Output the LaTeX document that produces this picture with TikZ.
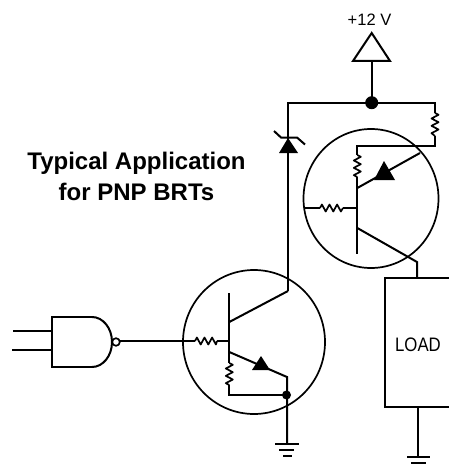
\documentclass[tikz,border=0pt]{standalone}
\usepackage{fontspec}
\setmainfont{Liberation Sans}
\tikzset{
  x=1pt,y=-1pt,
  wire/.style={line width=2pt,line join=miter},
  thin wire/.style={line width=1.7pt},
  tubecircle/.style={line width=1.7pt},
  jdot/.style={circle,fill=black,inner sep=0pt,minimum size=#1},
  lbl/.style={inner sep=0pt,align=center}
}
\newcommand{\vres}[3]{% x, ytop, ybottom
  \draw[thin wire,line join=round] (#1,#2)
   -- ++(3.5,1.83) -- ++(-7,3.67) -- ++(7,3.67) -- ++(-7,3.67) -- ++(7,3.67) -- ++(-7,3.67) -- (#1,#3);}
\newcommand{\hres}[3]{% xleft, xright, y
  \draw[thin wire,line join=round] (#1,#3)
   -- ++(1.9,-3.5) -- ++(3.8,7) -- ++(3.8,-7) -- ++(3.8,7) -- ++(3.8,-7) -- ++(3.8,7) -- (#2,#3);}
\begin{document}
\begin{tikzpicture}[x=1pt,y=-1pt]
\useasboundingbox (0,0) rectangle (449,468);
% labels
\node[lbl,font=\fontsize{16.5}{17}\selectfont] (vcc) at (369.5,19.5) {+12 V};
\node[lbl,font=\fontsize{24}{31}\selectfont\bfseries] (title) at (136.5,176) {Typical Application\\for PNP BRTs};
\node[lbl,font=\fontsize{19.5}{20}\selectfont,xscale=.86] (loadlbl) at (418,345) {LOAD};
% supply
\coordinate (top) at (371.7,102.7);
\coordinate (vb) at (371.7,61);
\draw[wire] (371.7,33) -- (390,61) -- (353,61) -- cycle;
\draw[wire] (vb) -- (top);
\node[jdot=13pt] (jtop) at (top) {};
\draw[wire] (288,291) -- (288,102.7) -- (435,102.7) -- (435,113);
\vres{435}{113}{136}
\draw[wire] (435,136) -- (435,146) -- (357.3,146) -- (357.3,155);
% zener
\fill (288,138) -- (298,153) -- (279,153) -- cycle;
\draw[wire] (274,131) -- (281,137.5) -- (297,137.5) -- (305,144.5);
% upper transistor
\draw[tubecircle] (371,198.5) ellipse (67.5 and 69.5);
\vres{357.3}{155}{177}
\draw[wire] (357.3,177) -- (357.3,254);
\draw[wire] (303.5,208) -- (320,208);
\hres{320}{343}{208}
\draw[wire] (343,208) -- (357.3,208);
\draw[wire] (357.3,188) -- (420,153);
\fill (384,161) -- (395,180) -- (374,180) -- cycle;
\draw[wire] (357.3,228) -- (417,262) -- (417,278);
% load
\draw[wire] (449,278) -- (385,278) -- (385,407) -- (449,407);
\draw[wire] (418,407) -- (418,457);
\draw[wire] (407,457) -- (430,457);
\draw[wire] (411,463) -- (426,463);
% lower transistor
\draw[tubecircle] (254,342) ellipse (71 and 72);
\draw[wire] (229.3,293) -- (229.3,363);
\vres{229.3}{363}{385}
\draw[wire] (229.3,385) -- (229.3,395) -- (286.5,395);
\draw[wire] (229.3,322) -- (288,291);
\draw[wire] (229.3,352) -- (287,377) -- (287,444);
\fill (261,356) -- (270,370) -- (252,370) -- cycle;
\node[jdot=9pt] (jbot) at (286.5,395) {};
\draw[wire] (195,341) -- (120,341);
\hres{195}{217}{341}
\draw[wire] (217,341) -- (229.3,341);
\draw[wire] (275,444) -- (299,444);
\draw[wire] (279,450) -- (294,450);
\draw[wire] (283,456) -- (292,456);
% NAND
\draw[wire] (92,317) -- (52,317) -- (52,367) -- (92,367);
\draw[wire] (92,317) arc[start angle=-90,end angle=90,x radius=20,y radius=25];
\draw[line width=1.7pt] (116,342) circle (3.8);
\draw[wire] (13,331) -- (52,331);
\draw[wire] (12,350) -- (52,350);
\end{tikzpicture}
\end{document}
